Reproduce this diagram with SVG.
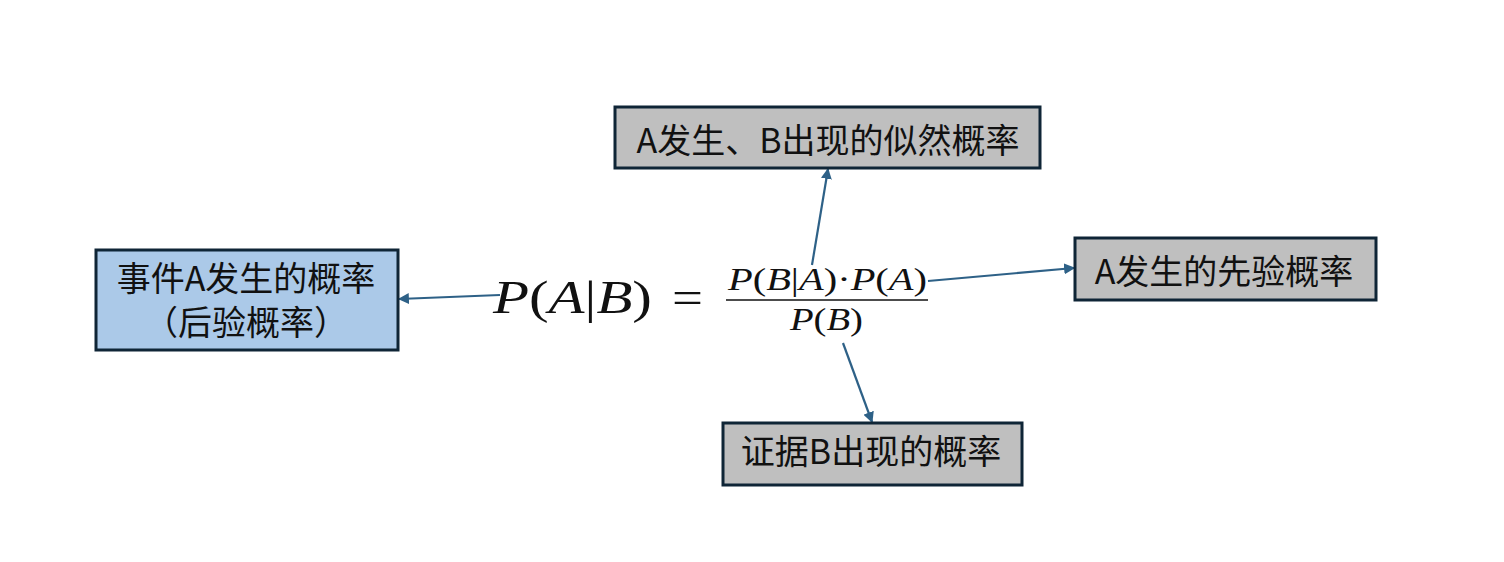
<svg xmlns="http://www.w3.org/2000/svg" width="1504" height="562" viewBox="0 0 1504 562">
<style>
.box{stroke:#0f2536;stroke-width:3}
.gray{fill:#bfbfbf}
.blue{fill:#abc9e8}
.lbl{font-family:"Noto Sans CJK SC","Liberation Sans",sans-serif;font-size:34px;fill:#111;text-anchor:middle}
.math{font-family:"Liberation Serif","DejaVu Serif",serif;fill:#111}
.it{font-style:italic}
.conn{stroke:#2e6187;stroke-width:2.2;fill:none;marker-end:url(#ah)}
</style>
<defs>
<marker id="ah" viewBox="0 0 10 10" refX="9" refY="5" markerWidth="5" markerHeight="5" orient="auto" markerUnits="strokeWidth">
<path d="M0,0 L10,5 L0,10 z" fill="#2e6187"/>
</marker>
</defs>
<rect width="1504" height="562" fill="#ffffff"/>
<g id="formula">
<text class="math" x="493" y="313" font-size="46" textLength="159" lengthAdjust="spacingAndGlyphs"><tspan class="it">P</tspan>(<tspan class="it">A</tspan>|<tspan class="it">B</tspan>)</text>
<text class="math" x="672" y="313" font-size="46" textLength="31" lengthAdjust="spacingAndGlyphs">=</text>
<text class="math" x="728" y="290" font-size="31" textLength="199" lengthAdjust="spacingAndGlyphs"><tspan class="it">P</tspan>(<tspan class="it">B</tspan>|<tspan class="it">A</tspan>)·<tspan class="it">P</tspan>(<tspan class="it">A</tspan>)</text>
<line x1="726" y1="300" x2="928" y2="300" stroke="#111" stroke-width="1.5"/>
<text class="math" x="790" y="330" font-size="31" textLength="73" lengthAdjust="spacingAndGlyphs"><tspan class="it">P</tspan>(<tspan class="it">B</tspan>)</text>
</g>
<g id="connectors">
<line class="conn" x1="500" y1="295" x2="399" y2="299"/>
<line class="conn" x1="812" y1="265" x2="828" y2="169"/>
<line class="conn" x1="928" y1="281" x2="1074" y2="268"/>
<line class="conn" x1="843" y1="343" x2="872" y2="422"/>
</g>
<g id="posterior">
<rect class="box blue" x="96" y="250" width="302" height="100"/>
<text class="lbl" x="246" y="291"><tspan x="246" y="291">事件A发生的概率</tspan><tspan x="246" y="335">（后验概率）</tspan></text>
</g>
<g id="likelihood">
<rect class="box gray" x="615" y="107" width="425" height="61"/>
<text class="lbl" x="828" y="153">A发生、B出现的似然概率</text>
</g>
<g id="prior">
<rect class="box gray" x="1075" y="238" width="301" height="62"/>
<text class="lbl" x="1224" y="284">A发生的先验概率</text>
</g>
<g id="evidence">
<rect class="box gray" x="723" y="423" width="299" height="62"/>
<text class="lbl" x="871" y="464">证据B出现的概率</text>
</g>
</svg>
